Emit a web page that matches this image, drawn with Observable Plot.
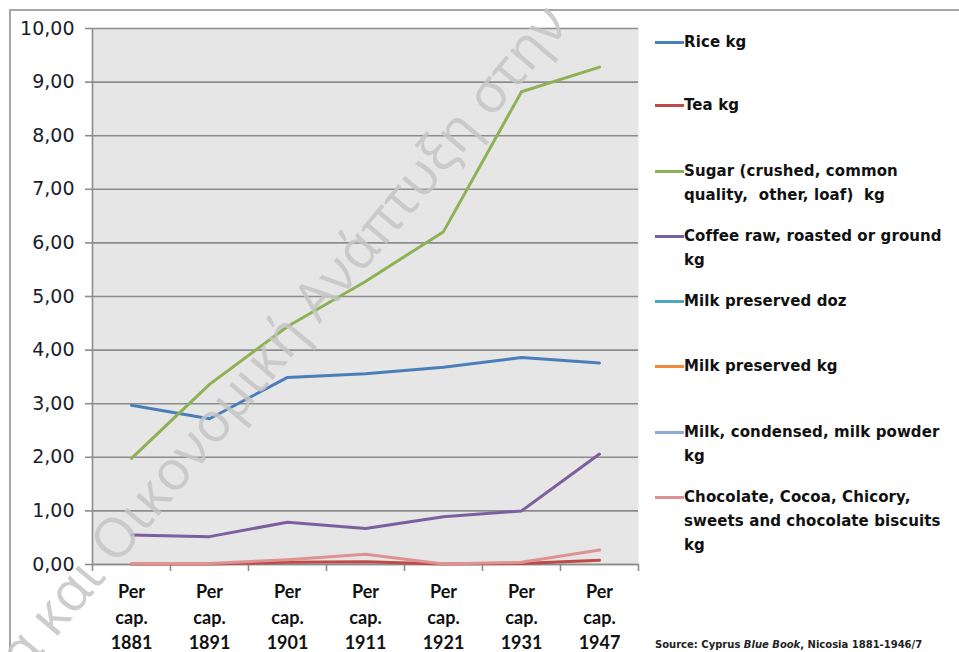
<!DOCTYPE html>
<html>
<head>
<meta charset="utf-8">
<script src="https://cdn.jsdelivr.net/npm/d3@7"></script>
<script src="https://cdn.jsdelivr.net/npm/@observablehq/plot@0.6"></script>
<style>
  html, body { margin: 0; padding: 0; background: #fff; }
  #wrap { position: relative; width: 959px; height: 652px; overflow: hidden; font-family: "DejaVu Sans", sans-serif; }
  #frame { position: absolute; left: 9px; top: 9px; width: 980px; height: 700px; border-top: 2px solid #a6a6a6; border-left: 2px solid #a6a6a6; }
  #chart { position: absolute; left: 0; top: 0; }
  .leg { position: absolute; left: 655px; font-weight: 700; font-size: 15px; line-height: 24px; color: #111; white-space: nowrap; letter-spacing: 0.1px; }
  .leg .sw { position: absolute; left: 0; top: 11px; width: 29px; height: 3px; }
  .leg .tx { margin-left: 29px; }
  #source { position: absolute; left: 655px; top: 639px; font-size: 10px; font-weight: 700; color: #222; white-space: nowrap; }
  #wm { position: absolute; left: 0; top: 0; pointer-events: none; }
</style>
</head>
<body>
<div id="wrap">
  <div id="frame"></div>
  <div id="chart"></div>
  <div id="legend"></div>
  <div id="source">Source: Cyprus <i>Blue Book</i>, Nicosia 1881-1946/7</div>
  <svg id="wm" width="959" height="652"></svg>
</div>
<script>
// ---- data ----
const years = ["1881", "1891", "1901", "1911", "1921", "1931", "1947"];
const tickLabels = years.map(y => "Per\ncap.\n" + y);

const seriesNames = [
  "Rice kg",
  "Tea kg",
  "Sugar (crushed, common quality,  other, loaf)  kg",
  "Coffee raw, roasted or ground kg",
  "Milk preserved doz",
  "Milk preserved kg",
  "Milk, condensed, milk powder kg",
  "Chocolate, Cocoa, Chicory, sweets and chocolate biscuits kg"
];
const legendLines = [
  ["Rice kg"],
  ["Tea kg"],
  ["Sugar (crushed, common", "quality,&nbsp; other, loaf)&nbsp; kg"],
  ["Coffee raw, roasted or ground", "kg"],
  ["Milk preserved doz"],
  ["Milk preserved kg"],
  ["Milk, condensed, milk powder", "kg"],
  ["Chocolate, Cocoa, Chicory,", "sweets and chocolate biscuits", "kg"]
];
const seriesColors = ["#4a7ebb", "#be4b48", "#8db255", "#7d5fa0", "#4aa8c2", "#f08a3a", "#8eaad4", "#dc9391"];

const rice      = [2.97, 2.72, 3.49, 3.56, 3.68, 3.86, 3.76];
const tea       = [0.01, 0.01, 0.04, 0.05, 0.01, 0.02, 0.08];
const sugar     = [1.98, 3.36, 4.44, 5.28, 6.21, 8.82, 9.28];
const coffee    = [0.55, 0.52, 0.79, 0.67, 0.89, 1.00, 2.06];
const milkDoz   = [null, null, null, null, null, null, null];
const milkKg    = [null, null, null, null, null, null, null];
const milkCond  = [null, null, null, null, null, null, null];
const chocolate = [0.02, 0.02, 0.09, 0.19, 0.01, 0.04, 0.27];

const yTicks = [0, 1, 2, 3, 4, 5, 6, 7, 8, 9, 10];

// ---- build table ----
const allSeries = [rice, tea, sugar, coffee, milkDoz, milkKg, milkCond, chocolate];
const rows = [];
allSeries.forEach((vals, s) => {
  vals.forEach((v, i) => {
    if (v != null) rows.push({series: seriesNames[s], idx: i, pos: i + 0.5, value: v, color: seriesColors[s]});
  });
});
const cats = years.map((y, i) => ({pos: i + 0.5, label: tickLabels[i]}));
const bounds = d3.range(0, years.length + 1);

const fmt = d => d3.format(".2f")(d).replace(".", ",");

const chart = Plot.plot({
  width: 959,
  height: 652,
  marginLeft: 92,
  marginRight: 321,
  marginTop: 28,
  marginBottom: 88,
  style: {background: "transparent", fontFamily: "'DejaVu Sans', sans-serif"},
  x: {domain: [0, years.length]},
  y: {domain: [0, 10]},
  marks: [
    Plot.frame({fill: "#e6e6e6", stroke: null}),
    Plot.gridY(yTicks, {stroke: "#8c8c8c", strokeOpacity: 1, strokeWidth: 1.6}),
    Plot.ruleX([0], {stroke: "#8c8c8c", strokeWidth: 1.6}),
    Plot.ruleY([0], {stroke: "#8c8c8c", strokeWidth: 1.6}),
    Plot.axisY(yTicks, {tickFormat: fmt, tickSize: 7, tickPadding: 11, fontSize: 19, letterSpacing: "-0.3px", stroke: "#8c8c8c", strokeWidth: 1.6, fill: "#1c1c2a", label: null}),
    Plot.axisX(bounds, {tickFormat: () => "", tickSize: 7, stroke: "#8c8c8c", strokeWidth: 1.6, label: null}),
    Plot.text(cats, {x: "pos", y: () => 0, text: "label", lineAnchor: "top", dy: 16, fontSize: 18, fontFamily: "Lato, sans-serif", fontWeight: 700, lineHeight: 1.4, fill: "#111"}),
    Plot.line(rows, {x: "pos", y: "value", z: "series", stroke: "color", strokeWidth: 3, strokeLinejoin: "round", strokeLinecap: "round"})
  ]
});
document.getElementById("chart").appendChild(chart);

// ---- legend ----
const legendTops = [30, 93, 159, 224, 289, 354, 420, 485];
const legend = document.getElementById("legend");
legendLines.forEach((lines, i) => {
  const div = document.createElement("div");
  div.className = "leg";
  div.style.top = legendTops[i] + "px";
  const sw = document.createElement("div");
  sw.className = "sw";
  sw.style.background = seriesColors[i];
  div.appendChild(sw);
  const tx = document.createElement("div");
  tx.className = "tx";
  tx.innerHTML = lines.join("<br>");
  div.appendChild(tx);
  legend.appendChild(div);
});

// ---- watermark ----
const wm = d3.select("#wm");
wm.append("text")
  .attr("transform", "translate(24,676) rotate(-50)")
  .attr("font-family", "'Open Sans', sans-serif")
  .attr("font-weight", 400)
  .attr("font-size", 55)
  .attr("fill", "#c4c4c4")
  .attr("fill-opacity", 0.85)
  .text("α και Οικονομική Ανάπτυξη στην");
</script>
</body>
</html>
